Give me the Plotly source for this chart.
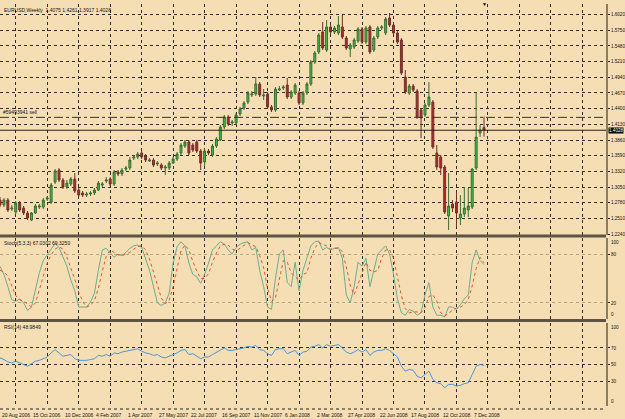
import plotly.graph_objects as go

weeks = list(range(124))

opens = [1.2826,1.2740,1.2826,1.2671,1.2620,1.2774,1.2688,1.2602,1.2481,1.2602,
1.2705,1.2705,1.2843,1.2792,1.3136,1.3343,1.3171,1.3050,1.3102,1.3188,
1.2998,1.2947,1.2912,1.2929,1.2947,1.2998,1.3084,1.3153,1.3188,1.3102,
1.3308,1.3274,1.3360,1.3377,1.3549,1.3567,1.3636,1.3584,1.3498,1.3515,
1.3446,1.3429,1.3377,1.3377,1.3463,1.3532,1.3636,1.3756,1.3825,1.3773,
1.3825,1.3670,1.3481,1.3670,1.3601,1.3756,1.3860,1.4084,1.4256,1.4153,
1.4153,1.4308,1.4411,1.4514,1.4635,1.4652,1.4825,1.4618,1.4652,1.4429,
1.4377,1.4721,1.4756,1.4807,1.4601,1.4670,1.4670,1.4497,1.4670,1.4825,
1.5204,1.5376,1.5721,1.5410,1.5807,1.5721,1.5703,1.5807,1.5617,1.5428,
1.5462,1.5566,1.5772,1.5548,1.5807,1.5410,1.5634,1.5790,1.5703,1.5962,
1.5841,1.5703,1.5583,1.4945,1.4670,1.4790,1.4704,1.4377,1.4291,1.4463,
1.4514,1.3636,1.3567,1.3394,1.2551,1.2757,1.2792,1.2516,1.2585,1.2654,
1.2705,1.3377,1.3980,1.4075]

highs = [1.2878,1.2860,1.2860,1.2740,1.2809,1.2809,1.2723,1.2637,1.2620,1.2757,
1.2757,1.2860,1.2895,1.3119,1.3360,1.3377,1.3205,1.3171,1.3222,1.3291,
1.3033,1.2981,1.2964,1.2981,1.3033,1.3153,1.3136,1.3222,1.3222,1.3343,
1.3343,1.3377,1.3412,1.3567,1.3601,1.3653,1.3670,1.3618,1.3549,1.3549,
1.3498,1.3463,1.3429,1.3498,1.3567,1.3653,1.3808,1.3860,1.3860,1.3808,
1.3860,1.3705,1.3705,1.3705,1.3791,1.3911,1.4118,1.4291,1.4291,1.4204,
1.4325,1.4429,1.4532,1.4704,1.4704,1.4945,1.4859,1.4738,1.4687,1.4463,
1.4773,1.4790,1.4807,1.4928,1.4721,1.4842,1.4704,1.4704,1.4859,1.5238,
1.5393,1.5703,1.5893,1.5927,1.5841,1.5824,1.5996,1.6013,1.5652,1.5531,
1.5617,1.5807,1.5807,1.5824,1.5841,1.5652,1.5824,1.5841,1.5979,1.6048,
1.5876,1.5738,1.5617,1.5066,1.4825,1.4825,1.4738,1.4411,1.4497,1.4859,
1.4549,1.3773,1.3601,1.3429,1.3291,1.2826,1.2964,1.2912,1.3050,1.3033,
1.3377,1.4687,1.4118,1.4261]

lows = [1.2705,1.2705,1.2620,1.2637,1.2585,1.2620,1.2568,1.2481,1.2464,1.2585,
1.2671,1.2671,1.2809,1.2757,1.3102,1.3136,1.3016,1.3016,1.3067,1.2947,
1.2878,1.2878,1.2878,1.2895,1.2912,1.2981,1.3050,1.3119,1.3067,1.3067,
1.3239,1.3239,1.3326,1.3343,1.3515,1.3532,1.3532,1.3481,1.3481,1.3394,
1.3412,1.3343,1.3257,1.3343,1.3446,1.3498,1.3601,1.3722,1.3601,1.3653,
1.3636,1.3343,1.3412,1.3601,1.3567,1.3722,1.3842,1.4049,1.4101,1.4101,
1.4118,1.4273,1.4377,1.4480,1.4601,1.4618,1.4601,1.4549,1.4394,1.4342,
1.4342,1.4704,1.4721,1.4566,1.4566,1.4635,1.4463,1.4463,1.4635,1.4790,
1.5169,1.5341,1.5410,1.5376,1.5686,1.5686,1.5669,1.5600,1.5410,1.5290,
1.5428,1.5531,1.5514,1.5514,1.5341,1.5376,1.5600,1.5755,1.5669,1.5807,
1.5669,1.5514,1.4980,1.4652,1.4635,1.4687,1.4222,1.3894,1.4256,1.4429,
1.3705,1.3343,1.3257,1.2585,1.2309,1.2620,1.2361,1.2395,1.2533,1.2533,
1.2671,1.3343,1.3911,1.3917]

closes = [1.2740,1.2826,1.2654,1.2688,1.2774,1.2654,1.2602,1.2516,1.2602,1.2723,
1.2723,1.2826,1.2860,1.3084,1.3326,1.3171,1.3050,1.3119,1.3188,1.2981,
1.2912,1.2912,1.2929,1.2947,1.2998,1.3119,1.3102,1.3171,1.3102,1.3308,
1.3274,1.3343,1.3377,1.3515,1.3567,1.3618,1.3567,1.3515,1.3515,1.3429,
1.3463,1.3377,1.3394,1.3463,1.3532,1.3618,1.3773,1.3825,1.3636,1.3687,
1.3670,1.3463,1.3670,1.3636,1.3756,1.3877,1.4084,1.4256,1.4135,1.4170,
1.4291,1.4394,1.4497,1.4670,1.4652,1.4825,1.4635,1.4635,1.4429,1.4377,
1.4738,1.4738,1.4773,1.4601,1.4687,1.4807,1.4497,1.4670,1.4825,1.5204,
1.5359,1.5669,1.5445,1.5807,1.5721,1.5790,1.5841,1.5634,1.5445,1.5497,
1.5583,1.5772,1.5548,1.5790,1.5376,1.5617,1.5790,1.5807,1.5945,1.5841,
1.5703,1.5548,1.5014,1.4687,1.4790,1.4721,1.4256,1.4239,1.4463,1.4601,
1.3739,1.3394,1.3377,1.2620,1.2723,1.2688,1.2602,1.2585,1.2688,1.2723,
1.3360,1.3911,1.4032,1.4028]

stoch_k = [65,55,40,24,22,25,20,11,15,35,
57,72,79,85,93,88,76,65,48,35,
15,15,15,21,32,60,85,87,82,76,
80,78,82,87,90,91,88,75,60,40,
20,17,20,32,69,89,95,90,69,55,
52,44,55,69,85,90,95,92,85,80,
88,92,94,95,85,88,60,40,15,12,
50,80,85,45,40,70,35,60,75,90,
95,96,85,88,85,87,88,75,30,20,
40,70,65,75,40,60,80,85,90,80,
55,25,8,5,12,10,5,8,30,45,
15,5,5,3,15,15,12,18,25,30,
70,85,72,67.03]

stoch_d = [60,58,53,40,29,24,22,19,15,20,
36,55,69,79,86,89,86,76,63,49,
33,22,15,17,23,38,59,77,85,82,
79,78,80,82,86,89,90,85,74,58,
40,26,19,23,40,63,84,91,85,71,
59,50,50,56,70,81,90,92,91,86,
84,87,91,94,91,89,78,63,38,22,
26,47,72,70,57,52,48,55,57,75,
87,94,92,90,86,87,87,83,64,42,
30,43,58,70,60,58,60,75,85,85,
75,53,29,13,8,9,9,8,14,28,
30,22,8,4,8,11,14,15,18,24,
41,62,76,69.33]

rsi = [58,56,53,52,54,52,50,48,51,54,
55,57,59,64,68,64,60,61,62,57,
55,55,55,56,57,61,60,62,60,64,
63,65,66,67,68,69,66,64,63,61,
62,59,58,60,62,64,67,68,62,63,
60,57,59,59,62,65,68,70,67,67,
68,69,70,72,71,73,68,67,63,61,
68,69,69,63,65,67,61,65,66,71,
72,74,70,74,72,73,74,70,65,63,
65,68,65,68,61,65,67,67,69,67,
63,59,48,42,44,43,36,34,38,42,
32,28,27,22,26,26,24,25,27,28,
38,48,50,49]

date_label_weeks = [0, 8, 16, 24, 32, 40, 48, 56, 64, 72, 80, 88, 96, 104, 112, 120]
date_labels = ["20 Aug 2006", "15 Oct 2006", "10 Dec 2006", "4 Feb 2007", "1 Apr 2007",
               "27 May 2007", "22 Jul 2007", "16 Sep 2007", "11 Nov 2007", "6 Jan 2008",
               "2 Mar 2008", "27 Apr 2008", "22 Jun 2008", "17 Aug 2008", "12 Oct 2008",
               "7 Dec 2008"]
grid_weeks = list(range(4, 156, 8))

price_ticks = [1.2240, 1.2510, 1.2780, 1.3050, 1.3320, 1.3590, 1.3860, 1.4130,
               1.4400, 1.4670, 1.4940, 1.5210, 1.5480, 1.5750, 1.6020]
stoch_levels = [20, 80]
stoch_edge_labels = [100, 0]
rsi_levels = [30, 50, 70]
rsi_edge_labels = [100, 0]

symbol = "EURUSD,Weekly"
last_bar = "1.4075 1.4261 1.3917 1.4028"
bid_price = 1.4028
order_price = 1.4250
order_label = "#59493941 sell"
stoch_label = "Stoch(5,3,3) 67.0302 69.3250"
rsi_label = "RSI(14) 48.9849"

BG = "#F5DEB3"
GRID = "#2e2e2e"
FONT = "Liberation Sans"
FS = 5
XR = [0.0, 154.0]

fig = go.Figure()
fig.add_trace(go.Candlestick(
    x=weeks, open=opens, high=highs, low=lows, close=closes,
    increasing=dict(line=dict(color="#3a6b34", width=1), fillcolor="#3fc43f"),
    decreasing=dict(line=dict(color="#70302a", width=1), fillcolor="#b52a2a"),
    whiskerwidth=0, xaxis="x", yaxis="y", showlegend=False, hoverinfo="skip"))
fig.add_trace(go.Scatter(x=weeks, y=stoch_k, mode="lines", xaxis="x2", yaxis="y2",
                         line=dict(color="#6aae8e", width=1), showlegend=False))
fig.add_trace(go.Scatter(x=weeks, y=stoch_d, mode="lines", xaxis="x2", yaxis="y2",
                         line=dict(color="#e0552e", width=1, dash="dot"), showlegend=False))
fig.add_trace(go.Scatter(x=weeks, y=rsi, mode="lines", xaxis="x3", yaxis="y3",
                         line=dict(color="#4a96dc", width=1), showlegend=False))

xcommon = dict(range=XR, tickmode="array", tickvals=grid_weeks, showticklabels=False,
               showgrid=True, gridcolor=GRID, griddash="dot", gridwidth=1,
               zeroline=False, showline=False, ticks="", fixedrange=True)
ycommon = dict(side="right", showgrid=True, gridcolor=GRID, griddash="dot", gridwidth=1,
               zeroline=False, ticks="outside", ticklen=2, tickcolor="#222",
               tickfont=dict(family=FONT, size=4.6, color="#111"), showline=True,
               linecolor="#8a7c62", linewidth=2, mirror=False)

fig.update_layout(
    width=625, height=419,
    margin=dict(l=0, r=17, t=4, b=10),
    paper_bgcolor=BG, plot_bgcolor=BG,
    font=dict(family=FONT, size=FS, color="#111"),
    showlegend=False,
    xaxis=dict(**xcommon, anchor="y", rangeslider=dict(visible=False)),
    xaxis2=dict(**xcommon, anchor="y2", matches="x"),
    xaxis3=dict(**xcommon, anchor="y3", matches="x"),
    yaxis=dict(**ycommon, domain=[0.4296, 1.0], range=[1.2223, 1.6203],
               tickvals=price_ticks, ticktext=[f"{v:.4f}" for v in price_ticks], anchor="x"),
    yaxis2=dict(**ycommon, domain=[0.2215, 0.4230], range=[0, 100],
                tickvals=stoch_levels, ticktext=[str(v) for v in stoch_levels], anchor="x2"),
    yaxis3=dict(**ycommon, domain=[0.0074, 0.2123], range=[0, 100],
                tickvals=rsi_levels, ticktext=[str(v) for v in rsi_levels], anchor="x3"),
)
fig.update_yaxes(gridcolor="#b9a88a", selector=dict(anchor="x2"))

shapes = []
for yp in [0.4272, 0.2185]:
    shapes.append(dict(type="line", xref="paper", yref="paper", x0=0, x1=1, y0=yp, y1=yp,
                       line=dict(color="#5e5444", width=3)))
shapes.append(dict(type="line", xref="paper", yref="paper", x0=0, x1=1, y0=0, y1=0,
                   line=dict(color="#222", width=1, dash="dot")))
shapes.append(dict(type="line", xref="paper", yref="y", x0=0, x1=1, y0=order_price, y1=order_price,
                   line=dict(color="#333", width=1, dash="dashdot")))
shapes.append(dict(type="line", xref="paper", yref="y", x0=0, x1=1, y0=bid_price, y1=bid_price,
                   line=dict(color="#222", width=1)))
fig.update_layout(shapes=shapes)

ann = []
ann.append(dict(text=f"{symbol}  {last_bar}", xref="paper", yref="paper", x=0.004, y=0.997,
                xanchor="left", yanchor="top", showarrow=False))
ann.append(dict(text=order_label, xref="paper", yref="y", x=0.002, y=order_price,
                xanchor="left", yanchor="bottom", showarrow=False))
ann.append(dict(text=stoch_label, xref="paper", yref="paper", x=0.003, y=0.4225,
                xanchor="left", yanchor="top", showarrow=False))
ann.append(dict(text=rsi_label, xref="paper", yref="paper", x=0.003, y=0.2150,
                xanchor="left", yanchor="top", showarrow=False))
ann.append(dict(text=f"{bid_price:.4f}", xref="paper", yref="y", x=1.0, y=bid_price,
                xanchor="left", yanchor="middle", showarrow=False, bgcolor="#000",
                font=dict(size=4.6, color="#fff"), xshift=2, borderpad=0))
# chart-shift marker above the last bar
ann.append(dict(text="▼", xref="x", yref="paper", x=weeks[-1], y=1.0, xanchor="center",
                yanchor="middle", showarrow=False, font=dict(size=5, color="#000")))
for yref, vals in (("y2", stoch_edge_labels), ("y3", rsi_edge_labels)):
    for v in vals:
        ann.append(dict(text=str(v), xref="paper", yref=yref, x=1.0, y=v, xanchor="left",
                        yanchor="top" if v == 100 else "bottom", showarrow=False,
                        xshift=3, font=dict(size=4.6)))
for w, lab in zip(date_label_weeks, date_labels):
    ann.append(dict(text=lab, xref="x3", yref="paper", x=w, y=0, xanchor="left",
                    yanchor="top", showarrow=False, yshift=-1))
fig.update_layout(annotations=ann)

fig.write_html("out.html")
